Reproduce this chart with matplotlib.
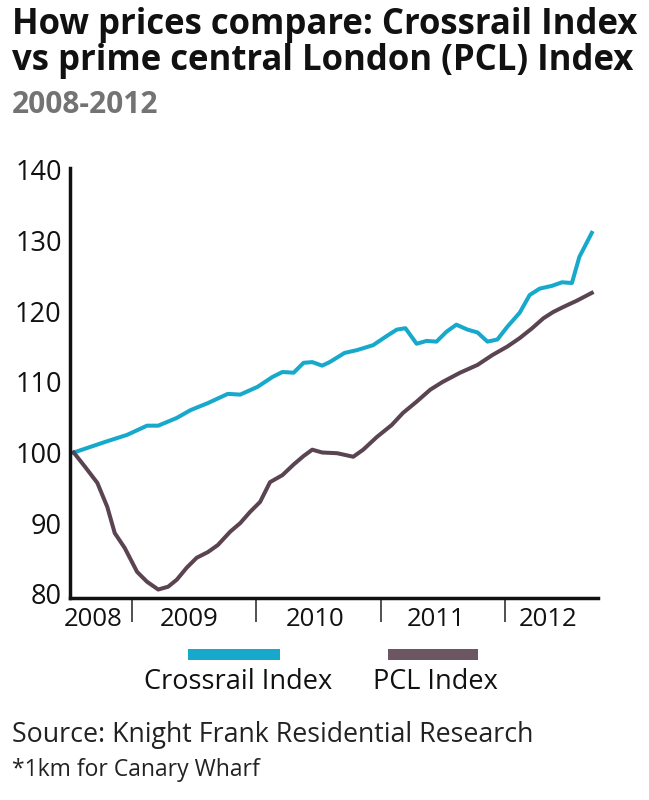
import matplotlib
matplotlib.use("Agg")
import matplotlib.pyplot as plt
from matplotlib.patches import Rectangle
import matplotlib.transforms as mtransforms

plt.rcParams['font.family'] = ['Open Sans', 'DejaVu Sans']

# data (x in decimal years)
crossrail_x = [2008.53, 2008.80, 2008.96, 2009.12, 2009.21, 2009.36, 2009.47, 2009.61,
               2009.77, 2009.87, 2010.01, 2010.13, 2010.21, 2010.30, 2010.38, 2010.45,
               2010.53, 2010.59, 2010.71, 2010.81, 2010.94, 2011.05, 2011.13, 2011.20,
               2011.29, 2011.37, 2011.45, 2011.53, 2011.61, 2011.70, 2011.78, 2011.86,
               2011.94, 2012.02, 2012.12, 2012.20, 2012.28, 2012.38, 2012.46, 2012.54,
               2012.60, 2012.70]
crossrail_y = [100.0, 101.6, 102.5, 103.8, 103.8, 104.9, 106.0, 107.0,
               108.3, 108.2, 109.3, 110.7, 111.4, 111.3, 112.7, 112.8,
               112.3, 112.8, 114.1, 114.5, 115.2, 116.5, 117.4, 117.6,
               115.4, 115.8, 115.7, 117.1, 118.1, 117.4, 117.0, 115.7,
               116.0, 117.8, 119.8, 122.3, 123.2, 123.6, 124.1, 124.0,
               127.7, 131.1]

pcl_x = [2008.53, 2008.62, 2008.72, 2008.80, 2008.86, 2008.94, 2009.04, 2009.12,
         2009.21, 2009.29, 2009.36, 2009.44, 2009.52, 2009.61, 2009.69, 2009.79,
         2009.87, 2009.95, 2010.03, 2010.11, 2010.21, 2010.30, 2010.38, 2010.45,
         2010.53, 2010.65, 2010.78, 2010.86, 2010.97, 2011.09, 2011.18, 2011.29,
         2011.40, 2011.50, 2011.64, 2011.78, 2011.90, 2012.02, 2012.12, 2012.22,
         2012.31, 2012.39, 2012.47, 2012.58, 2012.70]
pcl_y = [100.0, 98.0, 95.7, 92.3, 88.6, 86.5, 83.1, 81.7,
         80.6, 81.0, 82.0, 83.7, 85.1, 85.9, 86.9, 88.8,
         90.0, 91.6, 93.0, 95.8, 96.8, 98.3, 99.5, 100.4,
         100.0, 99.9, 99.4, 100.4, 102.2, 103.9, 105.6, 107.2,
         108.9, 110.0, 111.3, 112.4, 113.8, 115.0, 116.2, 117.6,
         119.0, 119.9, 120.6, 121.5, 122.6]

year_ticks = [2009, 2010, 2011, 2012]
year_labels = ['2008', '2009', '2010', '2011', '2012']
year_label_x = [2008.69, 2009.46, 2010.47, 2011.45, 2012.35]
y_ticks = [80, 90, 100, 110, 120, 130, 140]

cyan = '#17a9cb'
plum = '#5b4451'

W, H = 649, 800
fig = plt.figure(figsize=(W / 100, H / 100), dpi=100)
ax = fig.add_axes([70 / W, 1 - 598 / H, 528 / W, 428 / H])

ax.plot(crossrail_x, crossrail_y, color=cyan, lw=2.9, solid_joinstyle='round')
ax.plot(pcl_x, pcl_y, color=plum, lw=2.9, solid_joinstyle='round')

ax.set_xlim(2008.50, 2012.75)
ax.set_ylim(79.4, 140)
for s in ['top', 'right']:
    ax.spines[s].set_visible(False)
for s in ['left', 'bottom']:
    ax.spines[s].set_linewidth(2.5)
    ax.spines[s].set_color('#111111')
ax.spines['left'].set_bounds(79.4, 140.3)

ax.set_yticks(y_ticks)
ax.tick_params(axis='y', length=0, pad=6, labelsize=19.5, labelcolor='#111111')
ax.set_xticks(year_ticks)
ax.set_xticklabels([])
ax.tick_params(axis='x', length=17, width=1.1, color='#222222')

trans = mtransforms.blended_transform_factory(ax.transData, ax.transAxes)
for lx, lab in zip(year_label_x, year_labels):
    ax.text(lx, -21 / 428, lab, transform=trans, ha='center', va='center',
            fontsize=18.5, color='#111111')

# titles
fig.text(12 / W, 1 - 34 / H, 'How prices compare: Crossrail Index', fontsize=25,
         fontweight='bold', color='#111111', va='baseline')
fig.text(12 / W, 1 - 70 / H, 'vs prime central London (PCL) Index', fontsize=25,
         fontweight='bold', color='#111111', va='baseline')
fig.text(12 / W, 1 - 113 / H, '2008-2012', fontsize=21.5, fontweight='bold',
         color='#737373', va='baseline')

# legend
fig.add_artist(Rectangle((188 / W, 1 - 660 / H), 92 / W, 11 / H,
                         transform=fig.transFigure, color=cyan, lw=0))
fig.add_artist(Rectangle((388 / W, 1 - 660 / H), 90 / W, 11 / H,
                         transform=fig.transFigure, color='#6b5662', lw=0))
fig.text(238 / W, 1 - 682 / H, 'Crossrail Index', fontsize=19.5, ha='center',
         va='center', color='#111111')
fig.text(435 / W, 1 - 682 / H, 'PCL Index', fontsize=19.5, ha='center',
         va='center', color='#111111')

fig.text(12 / W, 1 - 742 / H, 'Source: Knight Frank Residential Research',
         fontsize=19.3, color='#222222', va='baseline')
fig.text(12 / W, 1 - 776 / H, '*1km for Canary Wharf', fontsize=16.5,
         color='#222222', va='baseline')

fig.savefig('out.png', dpi=100, facecolor='white')
